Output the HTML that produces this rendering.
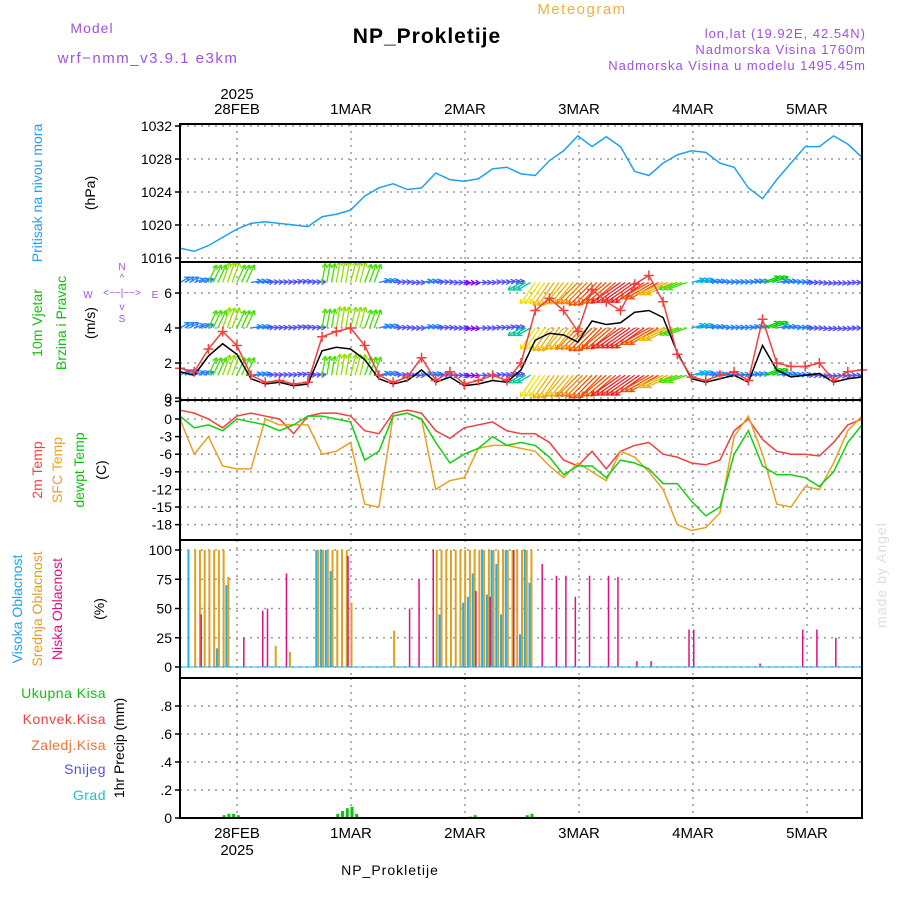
<!DOCTYPE html>
<html><head><meta charset="utf-8"><style>
body{margin:0;background:#fff}
svg{display:block;font-family:"Liberation Sans",sans-serif}
</style></head><body>
<svg id="c" width="900" height="900" xmlns="http://www.w3.org/2000/svg">
<text x="92" y="33" font-size="14" fill="#a050e0" text-anchor="middle" letter-spacing="1">Model</text>
<text x="148" y="63" font-size="15" fill="#a050e0" text-anchor="middle" letter-spacing="1.5">wrf−nmm_v3.9.1 e3km</text>
<text x="582" y="14" font-size="15" fill="#f0b040" text-anchor="middle" letter-spacing="1.5">Meteogram</text>
<text x="427" y="43" font-size="21" font-weight="bold" fill="#000" text-anchor="middle" letter-spacing="1">NP_Prokletije</text>
<text x="866" y="38" font-size="13" fill="#a050e0" text-anchor="end" letter-spacing="1">lon,lat (19.92E, 42.54N)</text>
<text x="866" y="54" font-size="13" fill="#a050e0" text-anchor="end" letter-spacing="1">Nadmorska Visina 1760m</text>
<text x="866" y="70" font-size="13" fill="#a050e0" text-anchor="end" letter-spacing="1">Nadmorska Visina u modelu 1495.45m</text>
<text x="237" y="99" font-size="15" text-anchor="middle">2025</text>
<text x="390" y="875" font-size="14" text-anchor="middle" letter-spacing="1">NP_Prokletije</text>
<text transform="translate(886,575) rotate(-90)" font-size="14" fill="#d8e0d8" text-anchor="middle" letter-spacing="1">made by Angel</text>
<text transform="translate(42,193) rotate(-90)" font-size="14" fill="#20a0f0" text-anchor="middle">Pritisak na nivou mora</text>
<text transform="translate(95,193) rotate(-90)" font-size="14" text-anchor="middle">(hPa)</text>
<text transform="translate(42,323) rotate(-90)" font-size="14" fill="#10c010" text-anchor="middle">10m Vjetar</text>
<text transform="translate(66,323) rotate(-90)" font-size="14" fill="#10c010" text-anchor="middle">Brzina i Pravac</text>
<text transform="translate(95,323) rotate(-90)" font-size="14" text-anchor="middle">(m/s)</text>
<g fill="#a050e0" font-size="10" text-anchor="middle">
<text x="122" y="270">N</text><text x="122" y="281">^</text><text x="122" y="296">&lt;−−|−−&gt;</text><text x="88" y="298">W</text><text x="155" y="298">E</text><text x="122" y="310">v</text><text x="122" y="322">S</text></g>
<text transform="translate(42,470) rotate(-90)" font-size="14" fill="#f04040" text-anchor="middle">2m Temp</text>
<text transform="translate(62,470) rotate(-90)" font-size="14" fill="#f0a020" text-anchor="middle">SFC Temp</text>
<text transform="translate(84,470) rotate(-90)" font-size="14" fill="#10c010" text-anchor="middle">dewpt Temp</text>
<text transform="translate(106,470) rotate(-90)" font-size="14" text-anchor="middle">(C)</text>
<text transform="translate(22,609) rotate(-90)" font-size="14" fill="#20a0f0" text-anchor="middle">Visoka Oblacnost</text>
<text transform="translate(42,609) rotate(-90)" font-size="14" fill="#e0a020" text-anchor="middle">Srednja Oblacnost</text>
<text transform="translate(62,609) rotate(-90)" font-size="14" fill="#e01080" text-anchor="middle">Niska Oblacnost</text>
<text transform="translate(104,609) rotate(-90)" font-size="14" text-anchor="middle">(%)</text>
<g font-size="14" text-anchor="end" letter-spacing="0.5">
<text x="106" y="698" fill="#10c010">Ukupna Kisa</text>
<text x="106" y="724" fill="#f04040">Konvek.Kisa</text>
<text x="106" y="750" fill="#f07030">Zaledj.Kisa</text>
<text x="106" y="774" fill="#5050f0">Snijeg</text>
<text x="106" y="800" fill="#20c0c0">Grad</text></g>
<text transform="translate(124,748) rotate(-90)" font-size="14" text-anchor="middle">1hr Precip (mm)</text>
</svg>
<script>
// ---------- data ----------
const dayLabels=["28FEB","1MAR","2MAR","3MAR","4MAR","5MAR"];
const pressTicks=[1016,1020,1024,1028,1032];
const windTicks=[0,2,4,6];
const tempTicks=[3,0,-3,-6,-9,-12,-15,-18];
const cloudTicks=[0,25,50,75,100];
const precipTicks=[0,0.2,0.4,0.6,0.8];
// 3-hourly series starting 27FEB 12Z
const pressure=[1017.2,1016.8,1017.5,1018.5,1019.5,1020.2,1020.4,1020.2,1020.0,1019.8,1021.0,1021.3,1021.8,1023.5,1024.5,1025.0,1024.3,1024.5,1026.3,1025.5,1025.3,1025.6,1026.8,1027.0,1026.2,1026.0,1027.8,1029.0,1030.8,1029.5,1030.7,1029.5,1026.5,1026.0,1027.5,1028.5,1029.0,1028.8,1027.5,1027.0,1024.5,1023.2,1025.5,1027.5,1029.5,1029.5,1030.8,1029.8,1028.2];
const gust=[1.7,1.5,2.8,3.8,3.0,1.3,0.9,1.0,0.8,0.9,3.5,3.8,4.0,3.0,1.3,0.9,1.2,2.3,1.0,1.5,0.8,1.0,1.3,1.0,2.0,5.0,5.7,5.0,3.8,6.2,5.5,5.0,6.5,7.0,5.5,2.5,1.2,1.0,1.3,1.5,1.0,4.5,2.0,1.8,1.8,2.0,1.0,1.5,1.6];
const windSpd=[1.5,1.3,2.4,3.1,2.5,1.1,0.8,0.9,0.7,0.8,2.7,2.9,2.8,2.2,1.1,0.8,1.0,1.6,0.9,1.2,0.7,0.8,1.0,0.9,1.6,3.3,3.7,3.6,3.2,4.4,4.2,4.3,4.9,5.0,4.6,2.6,1.1,0.9,1.1,1.3,0.9,3.0,1.6,1.2,1.3,1.4,0.9,1.1,1.2];
const windDir=[60,70,25,20,25,80,85,85,80,85,10,10,15,20,75,85,90,80,85,90,95,90,85,80,240,215,215,220,225,225,230,235,235,240,245,250,75,80,85,85,80,70,80,85,90,95,95,90,85];
const windKts=[3,3,7,8,7,3,2,2,2,2,7,8,8,7,3,2,2,3,2,2,1,2,2,2,5,10,11,11,12,13,13,14,14,13,11,7,4,3,3,3,3,6,3,3,2,2,2,2,2];
const t2m=[1.5,1,0,-1.5,0.5,1,0.5,0,-2.5,0.5,1,1,0.5,-2,-2.5,1,1.5,1,-2,-3.3,-1.5,-1,-0.5,-2,-2.5,-2.5,-4,-7,-8,-5.5,-8.5,-5.5,-4.5,-4,-6,-6.5,-7.5,-7.8,-7,-2,0,-3.5,-5.5,-6,-6,-6.3,-4,-1,0];
const tDew=[0.5,-1.5,-1,-2,0,-0.5,-1,-2,-1,0.5,0.5,0,-0.5,-7,-5.5,0.5,1,0,-4,-7.5,-6,-5,-3,-4.5,-4,-4.5,-6.5,-9.5,-8,-8,-10,-7,-7.5,-8.5,-11,-11,-14,-16.5,-15,-6,-2,-8,-9.5,-9.5,-10,-11.5,-9,-4,-1];
const tSfc=[0,-6,-3,-8,-8.5,-8.5,0,-1,-1,-1,-6,-5.5,-4,-14.5,-15,0.5,1,0,-12,-10.5,-10,-5,-4.5,-4.5,-5,-5.5,-8,-10,-7.5,-9,-10.5,-5.5,-6.5,-9,-12,-18,-19,-18.5,-16,-3,0.5,-6,-14.5,-15,-11.5,-12,-7.5,-2,0.5];
// hourly cloud bars (hour index, percent)
const midHours=[3,4,5,6,7,8,9,10,20,23,29,30,31,32,33,34,35,36,45,54,55,56,57,58,59,60,61,62,63,64,65,66,67,68,69,70,71,72,73,74];
const midVals=[100,100,100,100,100,100,100,77,18,13,100,100,100,100,100,100,100,55,31,100,100,100,100,100,100,100,100,100,100,100,100,100,100,100,100,100,100,100,100,100];
const highHours=[2,8,10,29,30,31,32,55,60,61,62,64,65,66,67,68,69,72,73,74];
const highVals=[100,16,70,100,100,100,82,45,55,60,80,100,62,100,88,45,100,28,100,72];
const lowHours=[4,13,17,18,22,35,48,50,53,62,65,70,76,79,81,83,86,90,92,96,99,107,108,122,131,134,138];
const lowVals=[45,25,48,50,80,95,50,75,100,65,60,100,88,78,78,60,78,78,77,5,5,32,32,3,32,32,25];
const precipHours=[9,10,11,12,33,34,35,36,37,61,62,73,74];
const precipVals=[0.02,0.03,0.03,0.02,0.03,0.05,0.07,0.08,0.03,0.01,0.02,0.02,0.03];

// ---------- axes ----------
const X0=180,X1=862,NS=48;
const xs=i=>X0+i*(X1-X0)/NS;          // 3h index
const xh=h=>X0+h*(X1-X0)/144;         // hour index
const xd=d=>237+d*114;                // day index
const yP=p=>258-(p-1016)*8.25;
const yW=v=>398-v*17.5;
const yT=t=>419-t*5.87;
const yC=c=>667-c*1.17;
const yR=r=>818-r*140;
const svg=document.getElementById('c');
const NS_="http://www.w3.org/2000/svg";
function mk(tag,attrs,parent){const e=document.createElementNS(NS_,tag);for(const k in attrs)e.setAttribute(k,attrs[k]);(parent||svg).appendChild(e);return e;}

const panels=[[124,262,"pressure"],[262,400,"wind"],[400,540,"temperature"],[540,678,"cloud"],[678,818,"precip"]];
function grid(top,bot,name,ticks,yf,fmt){
  const g=mk('g',{});
  
  
  dayLabels.forEach((d,i)=>{mk('line',{x1:xd(i),x2:xd(i),y1:top,y2:bot,stroke:'#999','stroke-dasharray':'2,5','stroke-width':1.5},g);});
  ticks.forEach(t=>{const y=yf(t);
    mk('line',{x1:X0,x2:X1,y1:y,y2:y,stroke:'#999','stroke-dasharray':'2,5','stroke-width':1.5},g);
    mk('line',{x1:X0-5,x2:X0,y1:y,y2:y,stroke:'#000','stroke-width':1.5},g);
    const tx=mk('text',{x:X0-8,y:y+5,'font-size':14,'text-anchor':'end'},g);tx.textContent=fmt?fmt(t):t;
    
    
  });
}
grid(124,262,'pressure',pressTicks,yP);
grid(262,400,'wind',windTicks,yW);
grid(400,540,'temperature',tempTicks,yT);
grid(540,678,'cloud',cloudTicks,yC);
grid(678,818,'precip',precipTicks,yR,t=>t===0?"0":t.toFixed(1).replace(/^0/,''));

function poly(vals,yf,color,name,w){
  const p=mk('polyline',{points:vals.map((v,i)=>xs(i)+','+yf(v)).join(' '),fill:'none',stroke:color,'stroke-width':w||1.5});
  
  
  return p;
}
const clip=mk('clipPath',{id:'wclip'});mk('rect',{x:X0,y:262,width:X1-X0,height:138},clip);
poly(pressure,yP,'#20a0f0','pressure-line');

// wind arrows
function spdColor(k){const cs=['#8000ff','#8000ff','#5050ff','#2080ff','#00b0f0','#00c8a0','#00d000','#40e000','#90e000','#c8e000','#f0e000','#f0b000','#f08000','#f05000','#f02020'];return cs[Math.min(k,14)];}
const wg=mk('g',{'clip-path':'url(#wclip)'});


[yW(0.6)+ -5, yW(4.0), yW(1.3)].forEach((baseY,row)=>{
  const by=[yW(6.6),yW(4.0),yW(1.3)][row];
  for(let h=0;h<=144;h++){
    const i=Math.floor(h/3);const k=windKts[i],d=windDir[i]*Math.PI/180;
    const L=4+k*2.2;const x=xh(h);const ex=x+L*Math.sin(d),ey=by-L*Math.cos(d);
    const c=spdColor(k);
    const a=mk('g',{},wg);
    mk('line',{x1:x,y1:by,x2:ex,y2:ey,stroke:c,'stroke-width':1.3},a);
    const ang=Math.atan2(ey-by,ex-x);
    [2.6,-2.6].forEach(o=>mk('line',{x1:ex,y1:ey,x2:ex-5*Math.cos(ang+o*0.2),y2:ey-5*Math.sin(ang+o*0.2),stroke:c,'stroke-width':1.3},a));
    
    
  }
});
poly(windSpd,yW,'#000','wind-speed-line');
poly(gust,yW,'#f04040','wind-gust-line');
gust.forEach((v,i)=>{const x=xs(i),y=yW(v);const m=mk('path',{d:`M${x-5},${y}h10M${x},${y-5}v10`,stroke:'#f04040','stroke-width':1.5});
  
  });

poly(t2m,yT,'#f04040','temp-2m-line');
poly(tSfc,yT,'#e8a020','temp-sfc-line');
poly(tDew,yT,'#10d010','temp-dewpt-line');

function bars(hours,vals,yf,color,name,off,w){
  hours.forEach((h,j)=>{const x=xh(h)+off;const y=yf(vals[j]);const r=mk('rect',{x:x,y:y,width:w,height:yf(0)-y,fill:color});
    
    });
}
bars(midHours,midVals,yC,'#e0a020','cloud-mid-bar',0,2);
bars(highHours,highVals,yC,'#20b0f0','cloud-high-bar',-2,2);
bars(lowHours,lowVals,yC,'#e01080','cloud-low-bar',1.5,1.5);
mk('line',{x1:X0,x2:X1,y1:yC(0),y2:yC(0),stroke:'#20b0f0','stroke-width':1});
bars(precipHours,precipVals,yR,'#10c010','precip-bar',0,3);
mk('line',{x1:X0,x2:X1,y1:yR(0),y2:yR(0),stroke:'#000','stroke-width':1.5,'stroke-dasharray':'4,2'});

panels.forEach(p=>{const r=mk('rect',{x:X0,y:p[0],width:X1-X0,height:p[1]-p[0],fill:'none',stroke:'#000','stroke-width':2});
  
  });
dayLabels.forEach((d,i)=>{
  const t=mk('text',{x:xd(i),y:114,'font-size':15,'text-anchor':'middle'});t.textContent=d;
  
  
  const b=mk('text',{x:xd(i),y:838,'font-size':15,'text-anchor':'middle'});b.textContent=d;
  
  
});
const yr=mk('text',{x:237,y:855,'font-size':15,'text-anchor':'middle'});yr.textContent="2025";


</script>
</body></html>
